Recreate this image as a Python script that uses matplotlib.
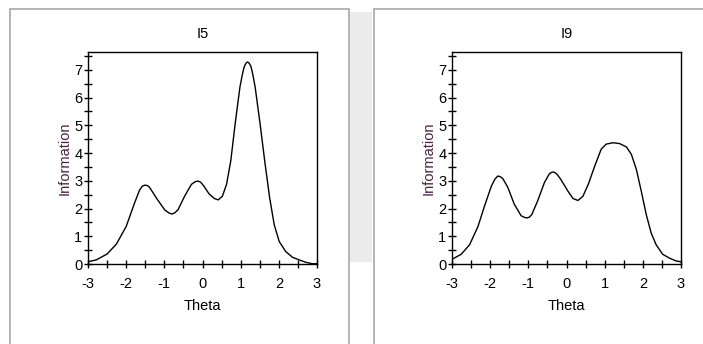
import matplotlib
matplotlib.use("Agg")
import matplotlib.pyplot as plt
from matplotlib.patches import Rectangle
from matplotlib.ticker import MultipleLocator

# ---- data ----
theta_i5 = [-3.0, -2.78, -2.5, -2.26, -2.0, -1.78, -1.65, -1.58, -1.52, -1.45, -1.39, -1.21,
            -0.99, -0.88, -0.80, -0.72, -0.64, -0.47, -0.29, -0.20, -0.12, -0.05, 0.04, 0.17, 0.31, 0.41,
            0.52, 0.63, 0.74, 0.86, 0.98, 1.04, 1.09, 1.14, 1.18, 1.22, 1.27, 1.32, 1.38, 1.51,
            1.63, 1.76, 1.88, 2.01, 2.18, 2.36, 2.53, 2.71, 2.88, 3.0]
info_i5 = [0.08, 0.15, 0.36, 0.71, 1.35, 2.2, 2.66, 2.80, 2.84, 2.83, 2.77, 2.38,
           1.95, 1.84, 1.80, 1.85, 1.96, 2.44, 2.87, 2.96, 2.99, 2.95, 2.8, 2.53, 2.36, 2.31,
           2.44, 2.87, 3.71, 5.1, 6.37, 6.80, 7.1, 7.24, 7.28, 7.24, 7.12, 6.82, 6.37, 5.04,
           3.71, 2.38, 1.41, 0.81, 0.45, 0.24, 0.15, 0.06, 0.01, 0.01]

theta_i9 = [-3.0, -2.76, -2.54, -2.32, -2.15, -1.97, -1.88, -1.8, -1.74, -1.67, -1.54, -1.37,
            -1.19, -1.10, -1.04, -0.97, -0.91, -0.76, -0.58, -0.45, -0.38, -0.32, -0.24, -0.15, 0.04, 0.17,
            0.30, 0.43, 0.57, 0.74, 0.91, 1.04, 1.22, 1.39, 1.57, 1.70,
            1.83, 1.96, 2.09, 2.22, 2.35, 2.52, 2.70, 2.87, 3.0]
info_i9 = [0.17, 0.35, 0.69, 1.35, 2.08, 2.8, 3.05, 3.17, 3.15, 3.08, 2.77, 2.16,
           1.74, 1.68, 1.66, 1.69, 1.78, 2.26, 2.93, 3.25, 3.31, 3.31, 3.22, 3.05, 2.62, 2.36,
           2.29, 2.44, 2.87, 3.53, 4.14, 4.32, 4.37, 4.34, 4.22, 3.95,
           3.41, 2.62, 1.78, 1.11, 0.69, 0.35, 0.21, 0.11, 0.08]

titles = ["I5", "I9"]
x_ticks = [-3, -2, -1, 0, 1, 2, 3]
y_ticks = [0, 1, 2, 3, 4, 5, 6, 7]

plt.rcParams['font.family'] = ['Liberation Sans Narrow', 'Liberation Sans', 'DejaVu Sans']

W, H = 703, 344
fig = plt.figure(figsize=(W / 100, H / 100), dpi=100)
fig.patch.set_facecolor('white')

# faint background bar between panels
fig.patches.append(Rectangle((350 / W, 1 - 262 / H), 22 / W, 250 / H,
                             transform=fig.transFigure, facecolor='#ececec',
                             edgecolor='none', zorder=-3))
# panel frames
for x0, x1 in [(10, 349), (374, 710)]:
    fig.patches.append(Rectangle((x0 / W, -0.05), (x1 - x0) / W, 1.05 - 9 / H,
                                 transform=fig.transFigure, facecolor='white',
                                 edgecolor='#a8a8a8', linewidth=1.2, zorder=-2))

axes_px = [(88, 317), (452, 681)]
series = [(theta_i5, info_i5), (theta_i9, info_i9)]
for (xl, xr), (tx, iy), title in zip(axes_px, series, titles):
    top, bot = 52, 264
    ax = fig.add_axes([xl / W, 1 - bot / H, (xr - xl) / W, (bot - top) / H])
    ax.set_facecolor('none')
    ax.plot(tx, iy, color='black', linewidth=1.0)
    ax.set_xlim(-3, 3)
    ax.set_ylim(0, 7.64)
    ax.set_xticks(x_ticks)
    ax.set_xticklabels([str(v) for v in x_ticks])
    ax.set_yticks(y_ticks)
    ax.xaxis.set_minor_locator(MultipleLocator(0.5))
    ax.yaxis.set_minor_locator(MultipleLocator(0.5))
    ax.tick_params(which='both', direction='inout', length=6, width=1,
                   labelsize=10.5, color='black')
    ax.tick_params(axis='x', pad=6)
    ax.tick_params(axis='y', pad=1)
    for s in ax.spines.values():
        s.set_linewidth(1.0)
    ax.set_title(title, fontsize=10.5, pad=10)
    ax.set_xlabel("Theta", fontsize=10.5, labelpad=6)
    ax.set_ylabel("Information", fontsize=10.5, color='#4a2440', labelpad=2)

fig.savefig("out.png", dpi=100, facecolor=fig.get_facecolor())
